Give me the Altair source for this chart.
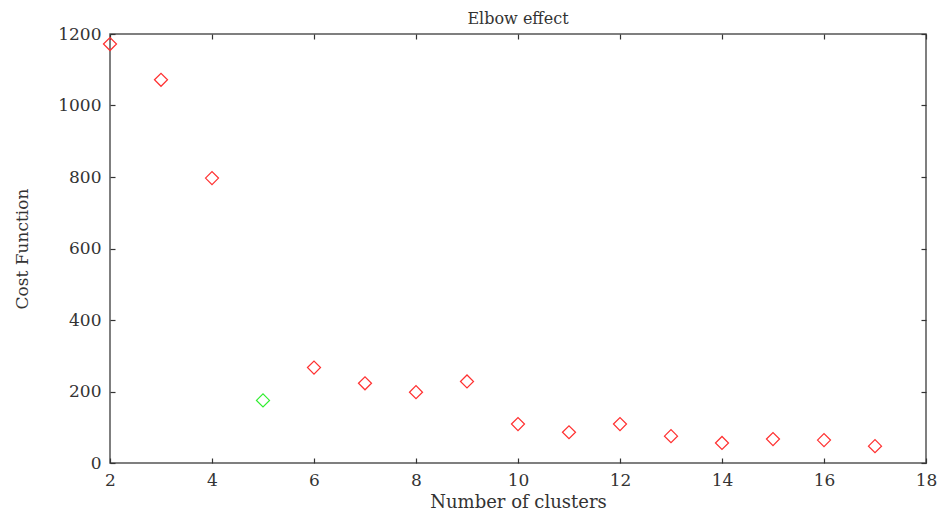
import altair as alt
import pandas as pd

clusters = [2, 3, 4, 5, 6, 7, 8, 9, 10, 11, 12, 13, 14, 15, 16, 17]
cost = [1172, 1072, 797, 175, 267, 223, 198, 228, 109, 86, 109, 75, 56, 67, 64, 47]
groups = ["other"] * 3 + ["elbow"] + ["other"] * 12
x_ticks = [2, 4, 6, 8, 10, 12, 14, 16, 18]
y_ticks = [0, 200, 400, 600, 800, 1000, 1200]

df = pd.DataFrame({"k": clusters, "cost": cost, "group": groups})

FONT = "DejaVu Serif"
TXT = "#333333"
TICK = 5

xs = alt.Scale(domain=[2, 18], nice=False, zero=False)
ys = alt.Scale(domain=[0, 1200], nice=False)

base = alt.Chart(df)

points = base.mark_point(shape="diamond", filled=False, size=170, strokeWidth=1.2, opacity=1).encode(
    x=alt.X("k:Q", scale=xs, axis=alt.Axis(
        orient="bottom", values=x_ticks, format="d", title="Number of clusters", domain=False,
        tickSize=TICK, offset=-TICK, labelPadding=9, grid=False, labelFlush=False,
        titleY=44, titleBaseline="middle", titleFontSize=18)),
    y=alt.Y("cost:Q", scale=ys, axis=alt.Axis(
        orient="left", values=y_ticks, format="d", title="Cost Function", domain=False,
        tickSize=TICK, offset=-TICK, labelPadding=9, grid=False, labelFlush=False,
        titleX=-93, titleBaseline="middle", titleFontSize=17)),
    color=alt.Color("group:N", scale=alt.Scale(domain=["other", "elbow"], range=["#ff3030", "#30ee30"]), legend=None),
)

mirror = base.mark_point(opacity=0).encode(
    x=alt.X("k:Q", scale=xs, axis=alt.Axis(
        orient="top", values=x_ticks, title=None, labels=False, domain=False,
        tickSize=TICK, offset=-TICK, grid=False)),
    y=alt.Y("cost:Q", scale=ys, axis=alt.Axis(
        orient="right", values=y_ticks, title=None, labels=False, domain=False,
        tickSize=TICK, offset=-TICK, grid=False)),
)

chart = alt.layer(points, mirror).properties(
    width=816, height=429,
    title=alt.TitleParams(text="Elbow effect", font=FONT, fontSize=16, fontWeight="normal",
                          color=TXT, anchor="middle", offset=-2),
    autosize=alt.AutoSizeParams(type="none"),
    padding={"left": 102, "top": 26, "right": 11, "bottom": 48},
).configure_view(
    stroke="#555555", strokeWidth=1.5
).configure_axis(
    labelFont=FONT, labelFontSize=17, labelColor=TXT,
    titleFont=FONT, titleFontWeight="normal", titleColor=TXT,
    tickColor="#333333", tickWidth=1.2,
)

chart.save("out.html", embed_options={"renderer": "svg", "actions": False})
